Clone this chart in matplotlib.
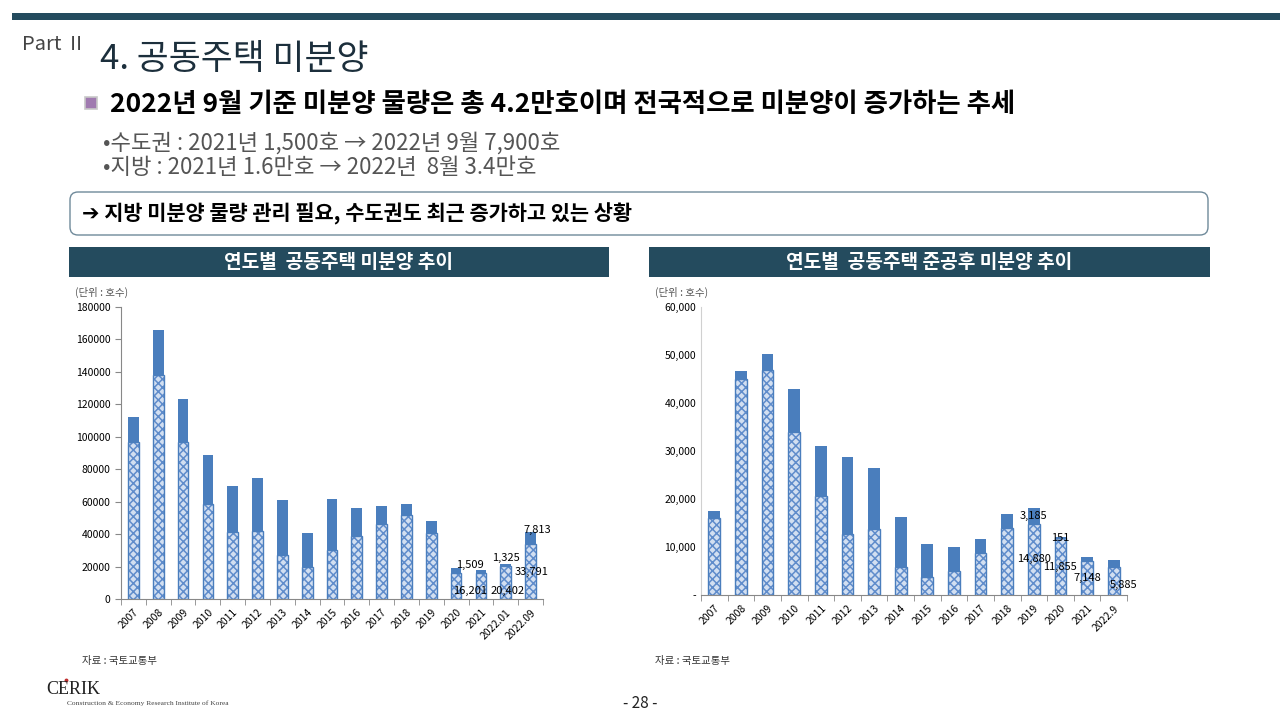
import numpy as np
import matplotlib.pyplot as plt
from matplotlib.patches import Rectangle, FancyBboxPatch

plt.rcParams['font.family'] = ['Noto Sans CJK KR', 'DejaVu Sans']
plt.rcParams['hatch.linewidth'] = 1.1

# left chart: yearly unsold apartments (households)
years_l = ['2007', '2008', '2009', '2010', '2011', '2012', '2013', '2014', '2015',
           '2016', '2017', '2018', '2019', '2020', '2021', '2022.01', '2022.09']
local_l = [96800, 138100, 96800, 58800, 41300, 41700, 27100, 19700, 30200,
           38800, 46200, 52000, 40700, 16300, 16201, 20402, 33791]
metro_l = [15500, 27500, 26500, 29900, 28500, 33100, 34000, 20700, 31300,
           17600, 11100, 6800, 7100, 2700, 1509, 1325, 7813]

# right chart: unsold after completion
years_r = ['2007', '2008', '2009', '2010', '2011', '2012', '2013', '2014', '2015',
           '2016', '2017', '2018', '2019', '2020', '2021', '2022.9']
local_r = [15970, 45070, 46940, 33890, 20690, 12780, 13750, 5900, 3820,
           5070, 8750, 13890, 14880, 11855, 7148, 5885]
metro_r = [1460, 1590, 3340, 8950, 10420, 16040, 12780, 10420, 6800,
           4930, 2920, 2980, 3185, 151, 770, 1330]

W, H = 1280, 720
BLUE = '#4a7ebd'
HATCH = '#5f8ccb'
LIGHT = '#d2dff1'
DARK = '#244b5e'

fig = plt.figure(figsize=(12.8, 7.2), dpi=100)


def px(x0, y0, x1, y1):
    # pixel box (top-left origin) -> figure fraction
    return [x0 / W, 1 - y1 / H, (x1 - x0) / W, (y1 - y0) / H]


bg = fig.add_axes([0, 0, 1, 1])
bg.set_xlim(0, W)
bg.set_ylim(H, 0)
bg.axis('off')

# header
bg.add_patch(Rectangle((12, 13), W - 12, 7, color=DARK, lw=0))
bg.text(22, 44, 'Part Ⅱ', fontsize=14.5, color='#444444', va='center')
bg.text(100, 60, '4. 공동주택 미분양', fontsize=25, color='#1c2f3c', va='center')
bg.add_patch(Rectangle((85, 97), 12, 12, facecolor='#a07ab0', edgecolor='#c8c8c8', lw=1.2))
bg.text(110, 104, '2022년 9월 기준 미분양 물량은 총 4.2만호이며 전국적으로 미분양이 증가하는 추세',
        fontsize=19, fontweight='bold', color='black', va='center')
bg.text(103, 143, '•수도권 : 2021년 1,500호 → 2022년 9월 7,900호',
        fontsize=16, color='#555555', va='center')
bg.text(103, 168, '•지방 : 2021년 1.6만호 → 2022년  8월 3.4만호',
        fontsize=16, color='#555555', va='center')
bg.add_patch(FancyBboxPatch((70, 192), 1138, 43, boxstyle='round,pad=0,rounding_size=8',
                            facecolor='white', edgecolor='#6f8a9a', lw=1))
bg.text(82, 214, '➔ 지방 미분양 물량 관리 필요, 수도권도 최근 증가하고 있는 상황',
        fontsize=15, fontweight='bold', color='black', va='center')

# chart title bars
bg.add_patch(Rectangle((69, 247), 540, 30, color=DARK, lw=0))
bg.text(339, 263, '연도별  공동주택 미분양 추이', fontsize=13.8, fontweight='bold',
        color='white', ha='center', va='center')
bg.add_patch(Rectangle((649, 247), 561, 30, color=DARK, lw=0))
bg.text(929, 263, '연도별  공동주택 준공후 미분양 추이', fontsize=13.8, fontweight='bold',
        color='white', ha='center', va='center')

bg.text(75, 292, '(단위 : 호수)', fontsize=7.5, color='#555555', va='center')
bg.text(655, 292, '(단위 : 호수)', fontsize=7.5, color='#555555', va='center')

# footer
bg.text(82, 661, '자료 : 국토교통부', fontsize=7.5, color='#333333', va='center')
bg.text(655, 661, '자료 : 국토교통부', fontsize=7.5, color='#333333', va='center')
bg.text(46, 690, 'CERIK', fontsize=13, family='Liberation Serif', color='#222222', va='center')
bg.plot([66], [680], marker='o', ms=1.8, color='#c03030')
bg.text(67, 703, 'Construction & Economy Research Institute of Korea', fontsize=5.4,
        family='Liberation Serif', color='#444444', va='center')
bg.text(640, 703, '- 28 -', fontsize=11, color='#222222', ha='center', va='center')


def stacked(ax, cats, local, metro, width):
    x = np.arange(len(cats))
    ax.bar(x, local, width, facecolor=LIGHT, edgecolor=HATCH, hatch='xxxx', lw=0)
    ax.bar(x, local, width, facecolor='none', edgecolor=BLUE, lw=1.0)
    ax.bar(x, metro, width, bottom=local, color=BLUE, lw=0)
    ax.set_xlim(-0.5, len(cats) - 0.5)
    ax.set_xticks(x)
    ax.set_xticklabels(cats, rotation=45, ha='right', rotation_mode='anchor', fontsize=7.5)
    ax.set_xticks(np.arange(len(cats) + 1) - 0.5, minor=True)
    ax.tick_params(axis='x', which='major', length=0, pad=6)
    ax.tick_params(axis='x', which='minor', length=4, color='#888888')
    ax.tick_params(axis='y', labelsize=7.5, length=4, color='#888888')
    for s in ['top', 'right']:
        ax.spines[s].set_visible(False)
    for s in ['left', 'bottom']:
        ax.spines[s].set_color('#888888')
    return x


# left chart
ax1 = fig.add_axes(px(121, 307, 543, 599))
x1 = stacked(ax1, years_l, local_l, metro_l, 0.43)
ax1.set_ylim(0, 180000)
ax1.set_yticks(np.arange(0, 180001, 20000))
ax1.set_yticklabels([str(v) for v in range(0, 180001, 20000)])

lab = dict(fontsize=8, color='black', ha='center', va='center')
ax1.annotate(f'{metro_l[14]:,}', (x1[14], local_l[14] + metro_l[14]), xytext=(-8, 4),
             textcoords='offset points', **lab)
ax1.annotate(f'{local_l[14]:,}', (x1[14], 0), xytext=(-8, 6),
             textcoords='offset points', **lab)
ax1.annotate(f'{metro_l[15]:,}', (x1[15], local_l[15] + metro_l[15]), xytext=(0, 4),
             textcoords='offset points', **lab)
ax1.annotate(f'{local_l[15]:,}', (x1[15], 0), xytext=(1, 6),
             textcoords='offset points', **lab)
ax1.annotate(f'{metro_l[16]:,}', (x1[16], local_l[16] + metro_l[16]), xytext=(5, 1),
             textcoords='offset points', **lab)
ax1.annotate(f'{local_l[16]:,}', (x1[16], local_l[16] / 2), xytext=(1, 0),
             textcoords='offset points', **lab)

# right chart
ax2 = fig.add_axes(px(701, 307, 1127, 595))
x2 = stacked(ax2, years_r, local_r, metro_r, 0.44)
ax2.set_ylim(0, 60000)
ax2.set_yticks(np.arange(0, 60001, 10000))
ax2.set_yticklabels(['-'] + [f'{v:,}' for v in range(10000, 60001, 10000)])
ax2.spines['left'].set_color('#d0d0d0')
ax2.tick_params(axis='y', length=0)

for i in [12, 13]:
    ax2.annotate(f'{metro_r[i]:,}', (x2[i], local_r[i] + metro_r[i] / 2), **lab)
for i in [12, 13, 14]:
    ax2.annotate(f'{local_r[i]:,}', (x2[i], local_r[i] / 2), **lab)
ax2.annotate(f'{local_r[15]:,}', (x2[15], local_r[15] / 2), xytext=(7, -3),
             textcoords='offset points', **lab)

# legends (drawn as markers + text on background)
for (lx, ly, txt, solid) in [(442, 328, '수도권 미분양', True), (442, 350, '지방 미분양', False),
                             (962, 333, '수도권 준공후 미분양', True), (962, 367, '지방 준공후 미분양', False)]:
    if solid:
        bg.add_patch(Rectangle((lx - 4, ly - 4), 8, 8, color=BLUE, lw=0))
    else:
        bg.add_patch(Rectangle((lx - 4, ly - 4), 8, 8, facecolor=LIGHT,
                               edgecolor=HATCH, hatch='xxxx', lw=0))
        bg.add_patch(Rectangle((lx - 4, ly - 4), 8, 8, facecolor='none',
                               edgecolor=BLUE, lw=0.8))
    bg.text(lx + 6, ly, txt, fontsize=10, color='#333333', va='center')

fig.savefig('out.png', dpi=100)
